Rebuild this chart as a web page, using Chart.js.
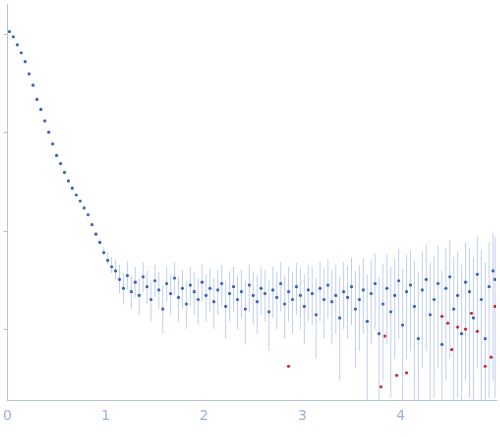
<!DOCTYPE html>
<html>
<head>
<meta charset="utf-8">
<script src="https://cdn.jsdelivr.net/npm/chart.js@4"></script>
<style>
  html, body { margin: 0; padding: 0; background: #fff; }
  #wrap { width: 500px; height: 437px; }
</style>
</head>
<body>
<div id="wrap"><canvas id="saxs"></canvas></div>
<script>
// scattering curve
const qValues = [0.02,0.06,0.10,0.14,0.18,0.22,0.26,0.30,0.34,0.38,0.42,0.46,0.50,0.54,0.58,0.62,0.66,0.70,0.74,0.78,0.82,0.86,0.90,0.94,0.98,1.02,1.06,1.10,
  1.14,1.18,1.22,1.26,1.30,1.34,1.38,1.42,1.46,1.50,1.54,1.58,1.62,1.66,1.70,1.74,1.78,1.82,1.86,1.90,1.94,1.98,
  2.02,2.06,2.10,2.14,2.18,2.22,2.26,2.30,2.34,2.38,2.42,2.46,2.50,2.54,2.58,2.62,2.66,2.70,2.74,2.78,2.82,2.86,2.90,2.94,2.98,
  3.02,3.06,3.10,3.14,3.18,3.22,3.26,3.30,3.34,3.38,3.42,3.46,3.50,3.54,3.58,3.62,3.66,3.70,3.74,3.78,3.82,3.86,3.90,3.94,3.98,
  4.02,4.06,4.10,4.14,4.18,4.22,4.26,4.30,4.34,4.38,4.42,4.46,4.50,4.54,4.58,4.62,4.66,4.70,4.74,4.78,4.82,4.86,4.90,4.94,4.96]
const intensity = [1050,930,770,640,520,390,300,215,170,130,100,76,58,48,39,32,27,23,20,17,14.5,11.5,9.2,7.6,6.0,5.0,4.3,3.9,
  3.2,2.6,3.5,2.4,3.0,2.2,3.4,2.7,2.0,3.1,2.5,1.6,2.9,2.3,3.3,2.1,2.6,1.8,2.8,2.4,2.0,3.0,
  2.2,2.6,1.9,2.5,2.9,1.7,2.3,2.7,2.0,2.4,1.6,2.8,2.2,1.9,2.6,2.3,1.5,2.5,2.1,2.9,1.8,2.4,2.0,2.7,2.2,
  1.7,2.5,2.3,1.4,2.6,2.0,2.8,1.9,2.2,1.3,2.4,2.1,2.7,1.6,2.0,2.5,1.2,2.3,2.9,0.9,1.8,2.6,1.5,2.2,3.1,
  1.1,2.4,2.8,1.7,0.8,2.5,3.2,1.4,2.0,2.9,0.7,2.6,3.4,1.6,2.2,0.9,3.0,2.4,1.3,3.6,2.0,0.8,2.7,3.9,3.2]
const errLow = [0,0,0,0,0,0,0,0,0,0,0,0,0,0,0,0,0,0,0,0,0.2,0.2,0.2,0.3,0.4,0.5,0.6,0.7,
  0.9,0.8,1.0,0.8,0.9,0.8,1.0,0.9,0.8,1.0,0.9,0.7,1.0,0.9,1.1,0.9,1.0,0.8,1.1,1.0,0.9,1.1,
  1.0,1.1,0.9,1.1,1.2,0.9,1.1,1.2,1.0,1.1,0.9,1.3,1.1,1.0,1.2,1.1,0.9,1.2,1.1,1.4,1.0,1.2,1.1,1.3,1.2,
  1.0,1.3,1.2,0.9,1.4,1.2,1.5,1.2,1.3,1.0,1.4,1.3,1.6,1.2,1.4,1.6,1.1,1.6,1.9,0.9,1.5,1.9,1.3,1.7,2.3,
  1.1,1.9,2.2,1.6,0.8,2.1,2.6,1.4,1.8,2.5,0.7,2.3,2.9,1.6,2.0,0.9,2.7,2.2,1.3,3.2,1.9,0.8,2.5,3.6,3.0]
const errHigh = [0,0,0,0,0,0,0,0,0,0,0,0,0,0,0,0,0,0,0,0,0.4,0.4,0.5,0.6,0.8,1.0,1.1,1.2,
  1.3,1.1,1.4,1.1,1.3,1.1,1.4,1.2,1.1,1.4,1.3,1.2,1.4,1.3,1.5,1.3,1.4,1.3,1.5,1.4,1.3,1.5,
  1.4,1.5,1.4,1.5,1.6,1.4,1.6,1.6,1.5,1.6,1.5,1.7,1.6,1.6,1.7,1.7,1.6,1.8,1.7,1.9,1.7,1.9,1.8,2.0,1.9,
  1.9,2.0,2.0,1.9,2.2,2.1,2.3,2.1,2.3,2.1,2.4,2.3,2.6,2.3,2.5,2.8,2.4,2.7,3.0,2.5,2.8,3.1,2.8,3.0,3.4,
  3.0,3.3,3.5,3.2,3.0,3.6,4.0,3.3,3.6,4.2,3.2,4.0,4.6,3.8,4.0,3.6,4.6,4.3,4.0,5.2,4.4,4.0,4.9,5.6,5.4]
// points plotted in red (negative intensities, shown as magnitude)
const redQ = [2.86,3.80,3.84,3.96,4.06,4.42,4.48,4.52,4.58,4.66,4.72,4.78,4.86,4.92,4.96]
const redI = [0.42,0.26,0.85,0.34,0.36,1.35,1.15,0.62,1.05,1.0,1.45,0.95,0.42,0.52,1.7]
const yTicks = [1, 10, 100, 1000]

const pts = qValues.map((q, i) => ({x: q, y: intensity[i]}))
const redPts = redQ.map((q, i) => ({x: q, y: redI[i]}))

const axisColor = '#b4c2dc'

const errorBars = {
  id: 'errorBars',
  beforeDatasetsDraw(chart) {
    const {ctx, scales: {x, y}, chartArea} = chart
    ctx.save()
    ctx.strokeStyle = 'rgba(150,175,225,0.6)'
    ctx.lineWidth = 1
    qValues.forEach((q, i) => {
      if (!errHigh[i]) return
      const lo = intensity[i] - errLow[i]
      const px = x.getPixelForValue(q)
      const top = y.getPixelForValue(intensity[i] + errHigh[i])
      const bottom = lo > 0 ? y.getPixelForValue(lo) : chartArea.bottom
      ctx.beginPath()
      ctx.moveTo(px, Math.max(top, chartArea.top))
      ctx.lineTo(px, Math.min(bottom, chartArea.bottom))
      ctx.stroke()
    })
    // y tick marks, no labels
    ctx.strokeStyle = axisColor
    yTicks.forEach(v => {
      const py = Math.round(y.getPixelForValue(v)) + 0.5
      ctx.beginPath()
      ctx.moveTo(chartArea.left - 4, py)
      ctx.lineTo(chartArea.left, py)
      ctx.stroke()
    })
    ctx.restore()
  }
}

new Chart(document.getElementById('saxs'), {
  type: 'scatter',
  data: {
    datasets: [
      {data: pts, backgroundColor: '#3a64b8', borderWidth: 0, pointRadius: 1.6},
      {data: redPts, backgroundColor: '#d22a2a', borderWidth: 0, pointRadius: 1.6}
    ]
  },
  options: {
    responsive: true,
    maintainAspectRatio: false,
    animation: false,
    layout: {padding: {top: 0, right: 0, left: 0, bottom: 9}},
    plugins: {legend: {display: false}, tooltip: {enabled: false}},
    scales: {
      x: {
        type: 'linear', min: 0, max: 4.97,
        grid: {display: false, drawTicks: true, tickLength: 5, tickColor: axisColor},
        border: {color: axisColor},
        afterBuildTicks: axis => { axis.ticks = [0, 1, 2, 3, 4].map(v => ({value: v})) },
        ticks: {color: '#a0b0d2', font: {family: 'DejaVu Sans', size: 14}, padding: 3}
      },
      y: {
        type: 'logarithmic', min: 0.19, max: 2000,
        grid: {display: false},
        border: {color: axisColor},
        ticks: {display: false},
        afterFit: axis => { axis.width = 5 }
      }
    }
  },
  plugins: [errorBars]
})
</script>
</body>
</html>
